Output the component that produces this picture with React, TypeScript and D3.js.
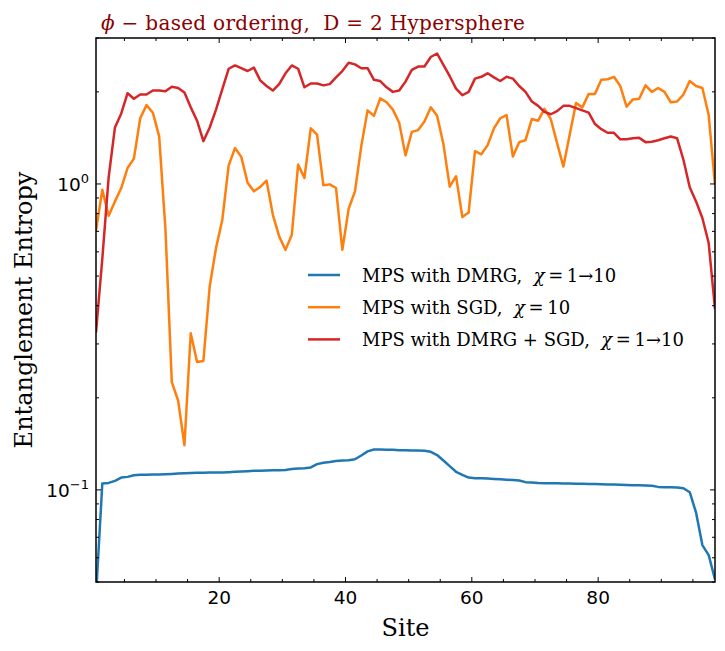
import { useMemo } from "react";
import * as d3 from "d3";

// entanglement entropy per bond
const dmrg = [
  0.045, 0.1049, 0.1054, 0.107, 0.1097, 0.1103, 0.1117, 0.112, 0.1121, 0.1122,
  0.1123, 0.1125, 0.1128, 0.1131, 0.1133, 0.1135, 0.1137, 0.1138, 0.1139, 0.114,
  0.1141, 0.1143, 0.1146, 0.1149, 0.1151, 0.1154, 0.1156, 0.1158, 0.1159, 0.116,
  0.1161, 0.117, 0.1174, 0.1178, 0.1184, 0.1214, 0.1227, 0.1233, 0.1242, 0.1248,
  0.1251, 0.1259, 0.1296, 0.1336, 0.1356, 0.1356, 0.1353, 0.1352, 0.1349, 0.1348,
  0.1345, 0.1344, 0.1342, 0.1332, 0.13, 0.1248, 0.1196, 0.1146, 0.112, 0.1097,
  0.1092, 0.1091, 0.1089, 0.1086, 0.1083, 0.108, 0.1077, 0.1073, 0.106, 0.1058,
  0.1053, 0.1052, 0.1051, 0.1051, 0.105, 0.1049, 0.1048, 0.1047, 0.1046, 0.1045,
  0.1044, 0.1042, 0.1041, 0.104, 0.1038, 0.1036, 0.1035, 0.1033, 0.1031, 0.1023,
  0.102, 0.102, 0.1019, 0.1013, 0.0983, 0.0843, 0.066, 0.0612, 0.051,
];

const sgd = [
  0.703, 0.958, 0.787, 0.877, 0.97, 1.128, 1.21, 1.64, 1.81, 1.71,
  1.43, 0.708, 0.225, 0.196, 0.14, 0.325, 0.262, 0.264, 0.462, 0.617,
  0.764, 1.148, 1.31, 1.226, 1.01, 0.946, 0.978, 1.026, 0.793, 0.674,
  0.609, 0.682, 1.157, 1.046, 1.52, 1.45, 0.99, 0.997, 0.97, 0.609,
  0.83, 0.946, 1.33, 1.74, 1.67, 1.905, 1.85, 1.75, 1.585, 1.24,
  1.48, 1.5, 1.6, 1.78, 1.67, 1.35, 0.98, 1.06, 0.78, 0.807,
  1.28, 1.25, 1.34, 1.52, 1.64, 1.68, 1.23, 1.37, 1.39, 1.63,
  1.61, 1.76, 1.63, 1.36, 1.14, 1.45, 1.84, 1.78, 1.97, 1.97,
  2.19, 2.2, 2.24, 2.09, 1.79, 1.89, 1.9, 2.1, 2.0, 2.06,
  2.0, 1.85, 1.86, 1.96, 2.17, 2.09, 2.06, 1.68, 0.995,
];

const dmrgSgd = [
  0.327, 0.57, 1.05, 1.53, 1.7, 1.98, 1.9, 1.96, 1.96, 2.02,
  2.02, 2.01, 2.08, 2.06, 1.99, 1.78, 1.61, 1.38, 1.53, 1.75,
  2.04, 2.38, 2.44, 2.39, 2.34, 2.4, 2.18, 2.09, 2.02, 2.12,
  2.3, 2.44, 2.38, 2.07, 2.13, 2.13, 2.1, 2.12, 2.23, 2.34,
  2.49, 2.46, 2.39, 2.39, 2.19, 2.17, 2.07, 2.0, 2.02, 2.16,
  2.36, 2.42, 2.42, 2.6, 2.67, 2.45, 2.25, 2.05, 1.95, 2.0,
  2.21, 2.24, 2.3, 2.23, 2.17, 2.24, 2.21, 2.09, 2.0, 1.86,
  1.8, 1.72, 1.69, 1.73, 1.8, 1.8, 1.77, 1.74, 1.71, 1.57,
  1.51, 1.47, 1.47, 1.4, 1.4, 1.41, 1.415, 1.37, 1.375, 1.39,
  1.41, 1.43, 1.41, 1.2, 0.975, 0.877, 0.774, 0.641, 0.39,
];

// bonds sit between sites
const bonds = dmrg.map((_, i) => i + 0.5);

const xTicks = [20, 40, 60, 80];
const xMinorTicks = d3.range(5, 100, 5);
const yTicks = [
  { value: 0.1, base: "10", exp: "\u22121" },
  { value: 1, base: "10", exp: "0" },
];

const series = [
  { name: "MPS with DMRG,", chi: "1\u219210", values: dmrg, color: "#1f77b4" },
  { name: "MPS with SGD,", chi: "10", values: sgd, color: "#ff7f0e" },
  { name: "MPS with DMRG + SGD,", chi: "1\u219210", values: dmrgSgd, color: "#d62728" },
];

const serif = "'DejaVu Serif', serif";
const sans = "'DejaVu Sans', sans-serif";

export default function App() {
  const width = 725;
  const height = 651;
  const margin = { top: 38, right: 10, bottom: 69, left: 96 };

  const x = useMemo(
    () => d3.scaleLinear().domain([0.5, 98.5]).range([margin.left, width - margin.right]),
    []
  );
  const y = useMemo(
    () => d3.scaleLog().domain([0.05, 3]).range([height - margin.bottom, margin.top]),
    []
  );

  const yMinorTicks = useMemo(() => {
    const out: number[] = [];
    [0.01, 0.1, 1].forEach((dec) => {
      for (let k = 2; k <= 9; k++) {
        const v = dec * k;
        if (v >= 0.05 && v <= 3) out.push(v);
      }
    });
    return out;
  }, []);

  const line = d3
    .line<number>()
    .x((_, i) => x(bonds[i]))
    .y((d) => y(d));

  const x0 = margin.left;
  const x1 = width - margin.right;
  const y0 = height - margin.bottom;
  const y1 = margin.top;
  const major = 5;
  const minor = 3;

  return (
    <div style={{ position: "fixed", left: 0, top: 0 }}>
      <svg width={width} height={height} viewBox={`0 0 ${width} ${height}`}>
        <rect width={width} height={height} fill="#fff" />
        <defs>
          <clipPath id="plot">
            <rect x={x0} y={y1} width={x1 - x0} height={y0 - y1} />
          </clipPath>
        </defs>

        {/* series */}
        <g clipPath="url(#plot)">
          {series.map((s) => (
            <path
              key={s.name}
              d={line(s.values) ?? ""}
              fill="none"
              stroke={s.color}
              strokeWidth={2.5}
              strokeLinejoin="round"
            />
          ))}
        </g>

        {/* ticks, pointing in, on all sides */}
        <g stroke="#000" strokeWidth={1}>
          {xMinorTicks.map((t) => (
            <g key={`xm-${t}`}>
              <line x1={x(t)} x2={x(t)} y1={y0} y2={y0 - (t % 20 === 0 ? major : minor)} />
              <line x1={x(t)} x2={x(t)} y1={y1} y2={y1 + (t % 20 === 0 ? major : minor)} />
            </g>
          ))}
          {yTicks.map((t) => (
            <g key={`y-${t.value}`}>
              <line x1={x0} x2={x0 + major} y1={y(t.value)} y2={y(t.value)} />
              <line x1={x1} x2={x1 - major} y1={y(t.value)} y2={y(t.value)} />
            </g>
          ))}
          {yMinorTicks.map((t) => (
            <g key={`ym-${t}`}>
              <line x1={x0} x2={x0 + minor} y1={y(t)} y2={y(t)} />
              <line x1={x1} x2={x1 - minor} y1={y(t)} y2={y(t)} />
            </g>
          ))}
        </g>

        {/* frame */}
        <rect x={x0} y={y1} width={x1 - x0} height={y0 - y1} fill="none" stroke="#000" strokeWidth={1.5} />

        {/* tick labels */}
        {xTicks.map((t) => (
          <text key={`xl-${t}`} x={x(t)} y={y0 + 22} textAnchor="middle" fontFamily={sans} fontSize={18.5}>
            {t}
          </text>
        ))}
        {yTicks.map((t) => (
          <text key={`yl-${t.value}`} x={x0 - 7} y={y(t.value) + 7.5} textAnchor="end" fontFamily={sans} fontSize={18.5}>
            <tspan>{t.base}</tspan>
            <tspan dy={-8.5} fontSize={13}>
              {t.exp}
            </tspan>
          </text>
        ))}

        {/* axis labels */}
        <text x={(x0 + x1) / 2} y={635.5} textAnchor="middle" fontFamily={serif} fontSize={24}>
          Site
        </text>
        <text
          transform={`translate(31.5, ${(y0 + y1) / 2}) rotate(-90)`}
          textAnchor="middle"
          fontFamily={serif}
          fontSize={24}
        >
          Entanglement Entropy
        </text>

        {/* title */}
        <text
          x={x0 + 5}
          y={29.5}
          fontFamily={serif}
          fontSize={20}
          letterSpacing={0.3}
          fill="#8b0000"
          xmlSpace="preserve"
        >
          <tspan fontStyle="italic">ϕ</tspan>
          {" \u2212 based ordering,\u00a0\u00a0D = 2 Hypersphere"}
        </text>

        {/* legend */}
        {series.map((s, i) => {
          const ly = 275 + i * 32.2;
          return (
            <g key={`lg-${s.name}`}>
              <line x1={308} x2={340} y1={ly} y2={ly} stroke={s.color} strokeWidth={2.5} />
              <text x={362} y={ly + 6.5} fontFamily={serif} fontSize={18} xmlSpace="preserve">
                {s.name + "\u00a0\u00a0"}
                <tspan fontStyle="italic">χ</tspan>
                {"\u2009=\u2009" + s.chi}
              </text>
            </g>
          );
        })}
      </svg>
    </div>
  );
}
